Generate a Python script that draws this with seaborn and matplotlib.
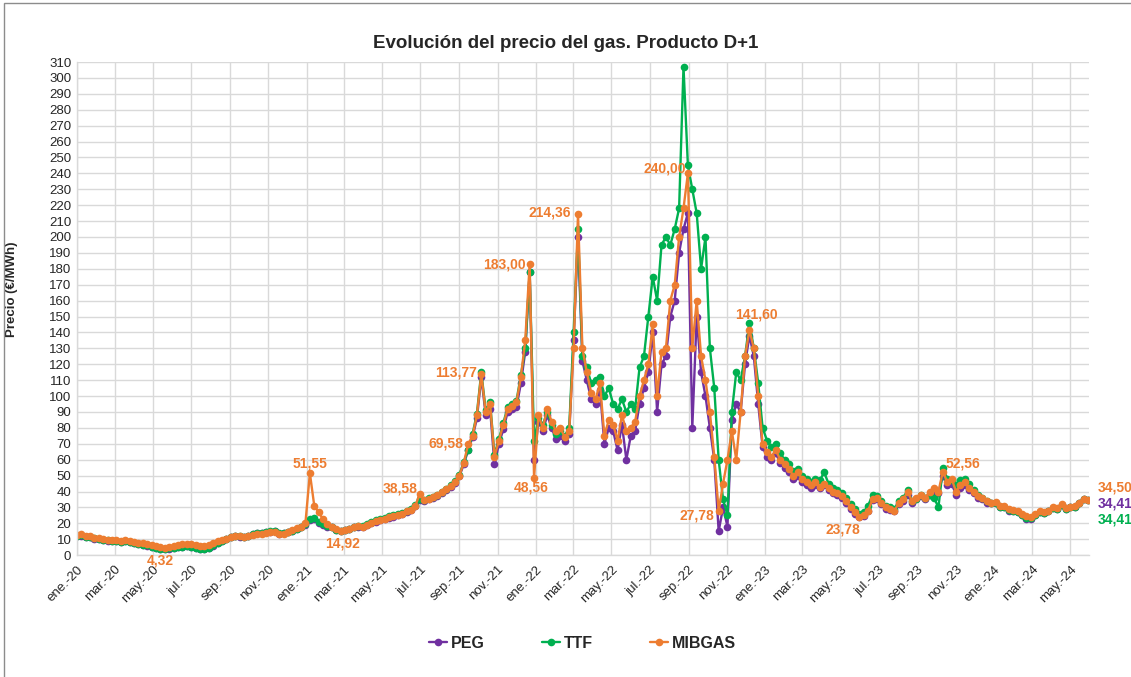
import numpy as np
import pandas as pd
import seaborn as sns
import matplotlib.pyplot as plt
from matplotlib.lines import Line2D
from matplotlib.patches import Rectangle

# weekly samples, starting 2020-01-01
mibgas = [
    12.5, 13.0, 11.8, 12.2, 11.0, 10.6, 10.2, 9.8, 9.6, 9.4,
    9.0, 9.3, 9.0, 8.2, 7.6, 7.4, 7.0, 6.2, 5.6, 5.0,
    4.32, 5.2, 5.8, 6.4, 6.8, 7.2, 7.0, 6.4, 6.0, 5.8,
    6.6, 7.6, 8.8, 9.8, 10.4, 11.6, 12.0, 11.8, 11.4, 12.0,
    12.8, 13.4, 13.6, 14.0, 14.4, 14.8, 13.4, 13.6, 14.6, 15.6,
    17.0, 18.0, 20.5, 51.55, 31.0, 27.0, 22.5, 19.5, 18.0, 16.2,
    14.92, 15.8, 16.4, 17.6, 18.2, 18.0, 19.0, 20.2, 21.2, 22.0,
    23.0, 24.2, 24.6, 25.4, 26.0, 27.5, 28.5, 31.0, 38.58, 34.5,
    35.5, 36.5, 37.5, 39.5, 41.5, 43.5, 46.0, 50.0, 58.0, 69.58,
    75.0, 88.0, 113.77, 90.0, 95.0, 62.0, 72.0, 82.0, 92.0, 94.0,
    96.0, 112.0, 135.0, 183.0, 48.56, 88.0, 80.0, 92.0, 84.0, 78.0,
    80.0, 74.0, 78.0, 130.0, 214.36, 130.0, 115.0, 102.0, 98.0, 108.0,
    75.0, 85.0, 82.0, 72.0, 88.0, 78.0, 80.0, 84.0, 100.0, 110.0,
    120.0, 145.0, 100.0, 128.0, 130.0, 160.0, 170.0, 200.0, 218.0, 240.0,
    130.0, 160.0, 125.0, 110.0, 90.0, 62.0, 27.78, 45.0, 60.0, 78.0,
    60.0, 90.0, 125.0, 141.6, 130.0, 100.0, 70.0, 65.0, 62.0, 66.0,
    60.0, 57.0, 54.0, 50.0, 52.0, 48.0, 46.0, 44.0, 46.0, 43.0,
    45.0, 42.0, 40.0, 39.0, 37.0, 34.0, 30.0, 27.0, 23.78, 25.0,
    28.0, 35.0, 36.0, 33.0, 30.0, 29.0, 28.0, 33.0, 35.0, 40.0,
    34.0, 36.0, 38.0, 36.0, 40.0, 42.0, 40.0, 52.56, 46.0, 48.0,
    40.0, 44.0, 46.0, 42.0, 40.0, 37.0, 36.0, 34.0, 33.0, 33.5,
    31.0, 31.0, 29.0, 28.5, 28.0, 26.0, 24.5, 24.0, 26.0, 27.5,
    27.0, 28.0, 30.0, 29.5, 32.0, 29.5, 30.5, 31.0, 33.0, 35.5,
    34.50,
]

ttf = [
    12.0, 12.4, 11.4, 11.6, 10.5, 10.1, 9.7, 9.3, 9.1, 8.9,
    8.5, 8.8, 8.5, 7.6, 7.0, 6.6, 6.2, 5.4, 4.6, 4.0,
    3.6, 4.2, 4.6, 5.0, 5.4, 5.6, 5.2, 4.6, 4.0, 3.8,
    4.8, 6.2, 7.8, 9.2, 10.2, 11.4, 12.0, 11.8, 11.4, 12.2,
    13.2, 14.0, 14.2, 14.6, 15.0, 15.4, 13.8, 14.0, 14.6, 15.4,
    16.6, 17.6, 19.5, 22.5, 23.5, 21.0, 19.5, 18.5, 17.8, 16.0,
    15.2, 16.0, 16.6, 17.8, 18.4, 18.4, 19.4, 20.6, 21.8, 22.6,
    23.6, 24.6, 25.0, 25.8, 26.4, 28.0, 29.0, 31.5, 35.0, 34.8,
    35.8, 36.8, 37.8, 39.8, 41.8, 44.0, 46.5, 50.5, 58.5, 66.0,
    76.0, 89.0, 115.0, 91.0, 96.0, 63.0, 73.0, 83.0, 93.0, 95.0,
    97.0, 113.0, 130.0, 178.0, 72.0, 86.0, 82.0, 90.0, 82.0, 76.0,
    78.0, 75.0, 80.0, 140.0, 205.0, 125.0, 118.0, 108.0, 110.0, 112.0,
    100.0, 105.0, 95.0, 92.0, 98.0, 90.0, 95.0, 92.0, 118.0, 125.0,
    150.0, 175.0, 160.0, 195.0, 200.0, 195.0, 205.0, 218.0, 307.0, 245.0,
    230.0, 215.0, 180.0, 200.0, 130.0, 105.0, 60.0, 35.0, 25.0, 90.0,
    115.0, 110.0, 125.0, 146.0, 130.0, 108.0, 80.0, 72.0, 68.0, 70.0,
    64.0, 60.0, 57.0, 53.0, 54.0, 50.0, 48.0, 46.0, 48.0, 47.0,
    52.0, 45.0, 42.0, 41.0, 39.0, 36.0, 32.0, 29.0, 26.0, 27.0,
    31.0, 38.0, 37.0, 34.0, 31.0, 30.0, 29.0, 34.0, 36.0, 41.0,
    34.0, 35.0, 38.0, 36.0, 38.0, 36.0, 30.0, 55.0, 48.0, 47.0,
    44.0, 47.0, 48.0, 45.0, 41.0, 38.0, 36.0, 34.0, 33.0, 33.0,
    30.5, 30.5, 28.5, 28.0, 27.0, 25.0, 23.5, 23.5, 25.5, 27.0,
    26.5, 27.5, 29.5, 29.0, 31.5, 29.0, 30.0, 30.5, 32.5, 35.0,
    34.41,
]

peg = [
    11.8, 12.2, 11.2, 11.4, 10.3, 9.9, 9.5, 9.1, 8.9, 8.7,
    8.3, 8.6, 8.3, 7.4, 6.8, 6.4, 6.0, 5.2, 4.5, 3.9,
    3.6, 4.1, 4.5, 4.9, 5.3, 5.5, 5.1, 4.5, 3.9, 3.8,
    4.7, 6.0, 7.6, 9.0, 10.0, 11.2, 11.8, 11.6, 11.2, 12.0,
    13.0, 13.8, 14.0, 14.4, 14.8, 15.2, 13.6, 13.8, 14.4, 15.2,
    16.4, 17.4, 19.2, 22.0, 23.0, 20.5, 19.0, 18.0, 17.4, 15.8,
    15.0, 15.8, 16.4, 17.4, 18.0, 18.0, 19.0, 20.0, 21.0, 22.0,
    23.0, 23.6, 24.2, 25.0, 25.6, 27.2, 28.2, 30.8, 34.5, 34.0,
    35.0, 36.0, 37.0, 39.0, 41.0, 43.0, 45.5, 49.5, 57.0, 66.0,
    74.0, 86.0, 112.0, 88.0, 92.0, 57.0, 70.0, 79.0, 90.0, 92.0,
    93.0, 108.0, 128.0, 178.0, 60.0, 84.0, 78.0, 88.0, 80.0, 73.0,
    75.0, 72.0, 76.0, 135.0, 200.0, 122.0, 110.0, 98.0, 95.0, 104.0,
    70.0, 80.0, 78.0, 66.0, 82.0, 60.0, 75.0, 78.0, 95.0, 105.0,
    115.0, 140.0, 90.0, 120.0, 125.0, 150.0, 160.0, 190.0, 205.0, 215.0,
    80.0, 150.0, 115.0, 100.0, 80.0, 60.0, 15.0, 30.0, 18.0, 85.0,
    95.0, 90.0, 120.0, 138.0, 125.0, 95.0, 68.0, 62.0, 60.0, 64.0,
    58.0, 55.0, 52.0, 48.0, 50.0, 46.0, 44.0, 42.0, 44.0, 42.0,
    44.0, 41.0, 39.0, 38.0, 36.0, 33.0, 29.0, 26.0, 24.0, 24.5,
    27.5, 34.5, 35.0, 32.0, 29.0, 28.5, 27.5, 32.0, 34.0, 38.0,
    33.0, 35.0, 37.0, 35.0, 38.0, 40.0, 39.0, 50.0, 44.0, 45.0,
    38.0, 42.0, 44.0, 41.0, 39.0, 36.0, 35.0, 33.0, 32.5, 32.5,
    30.0, 30.0, 28.0, 27.5, 27.0, 25.0, 23.0, 23.0, 25.0, 27.0,
    26.5, 27.5, 29.5, 29.0, 31.5, 29.0, 30.0, 30.5, 32.5, 35.0,
    34.41,
]

series = ['PEG', 'TTF', 'MIBGAS']
colors = {'PEG': '#7030A0', 'TTF': '#00B050', 'MIBGAS': '#ED7D31'}
meses = ['ene.', 'feb.', 'mar.', 'abr.', 'may.', 'jun.',
         'jul.', 'ago.', 'sep.', 'oct.', 'nov.', 'dic.']

# points labelled on the chart: (series, value)
etiquetas = [('MIBGAS', 4.32), ('MIBGAS', 51.55), ('MIBGAS', 14.92),
             ('MIBGAS', 38.58), ('MIBGAS', 69.58), ('MIBGAS', 113.77),
             ('MIBGAS', 183.0), ('MIBGAS', 48.56), ('MIBGAS', 214.36),
             ('MIBGAS', 240.0), ('MIBGAS', 27.78), ('MIBGAS', 141.6),
             ('MIBGAS', 23.78), ('MIBGAS', 52.56), ('MIBGAS', 34.50),
             ('PEG', 34.41), ('TTF', 34.41)]

n = len(mibgas)
dates = pd.date_range('2020-01-01', periods=n, freq='7D')
values = {'PEG': peg, 'TTF': ttf, 'MIBGAS': mibgas}
df = pd.DataFrame({
    'Fecha': np.tile(dates, 3),
    'Precio': peg + ttf + mibgas,
    'Serie': np.repeat(series, n),
})

sns.set_style('white')
plt.rcParams['font.family'] = ['Liberation Sans', 'DejaVu Sans']

fig = plt.figure(figsize=(11.31, 6.77), dpi=100)
ax = fig.add_axes([0.068, 0.18, 0.895, 0.7284])

sns.lineplot(data=df, x='Fecha', y='Precio', hue='Serie', hue_order=series,
             palette=colors, marker='o', markersize=5.5, markeredgewidth=0,
             linewidth=1.7, legend=False, ax=ax)

ax.set_ylim(0, 310)
ax.set_yticks(np.arange(0, 311, 10))
ax.set_xlim(pd.Timestamp('2020-01-01'), pd.Timestamp('2024-05-31'))
ticks = pd.date_range('2020-01-01', '2024-05-01', freq='2MS')
ax.set_xticks(ticks)
ax.set_xticklabels([f'{meses[t.month - 1]}-{t.strftime("%y")}' for t in ticks],
                   rotation=45, ha='right', rotation_mode='anchor')
ax.tick_params(axis='both', length=0, labelsize=9.5, colors='#262626')
ax.tick_params(axis='x', pad=6)
ax.tick_params(axis='y', pad=4)
ax.grid(True, color='#d9d9d9', linewidth=1.0)
for side in ['top', 'right']:
    ax.spines[side].set_visible(False)
for side in ['left', 'bottom']:
    ax.spines[side].set_color('#d9d9d9')
    ax.spines[side].set_linewidth(1.0)

ax.set_xlabel('')
ax.set_ylabel('Precio (€/MWh)', fontsize=9.5, fontweight='bold')
ax.yaxis.set_label_coords(-0.058, 0.54)

fig.suptitle('Evolución del precio del gas. Producto D+1', x=0.5, y=0.948,
             fontsize=13.5, fontweight='bold')

# label offsets in points (dx, dy, ha)
offsets = {
    4.32: (-3, -9, 'center'), 51.55: (0, 7, 'center'), 14.92: (1, -9, 'center'),
    38.58: (-14, 4, 'center'), 69.58: (-16, 1, 'center'), 113.77: (-18.5, 1, 'center'),
    183.0: (-18.5, 0, 'center'), 48.56: (-2, -7, 'center'), 214.36: (-20, 1, 'center'),
    240.0: (-16.5, 3.5, 'center'), 27.78: (-16, -3, 'center'), 141.6: (5, 11, 'center'),
    23.78: (-11.5, -9, 'center'), 52.56: (14.5, 5.5, 'center'),
    34.50: (7, 9, 'left'), 34.41: (7, -2.5, 'left'),
}
for serie, val in etiquetas:
    vals = values[serie]
    i = n - 1 - vals[::-1].index(val)  # last occurrence
    dx, dy, ha = offsets[val]
    if serie == 'TTF':
        dy = -13.5
    ax.annotate(f'{val:.2f}'.replace('.', ','), xy=(dates[i], val),
                xytext=(dx, dy), textcoords='offset points', ha=ha, va='center',
                color=colors[serie], fontsize=10, fontweight='bold',
                annotation_clip=False)

handles = [Line2D([], [], color=colors[s], marker='o', markersize=5.5,
                  markeredgewidth=0, linewidth=1.7) for s in series]
fig.legend(handles, series, loc='center', bbox_to_anchor=(0.515, 0.05), ncol=3,
           frameon=False, handlelength=1.1, handletextpad=0.25, columnspacing=3.6,
           prop={'size': 11.5, 'weight': 'bold'})

fig.add_artist(Rectangle((4 / 1131, -0.05), 1.1, 1.05 - 3 / 677,
                         transform=fig.transFigure, fill=False,
                         edgecolor='#8c8c8c', linewidth=1.0))

fig.savefig('out.png', dpi=100)
